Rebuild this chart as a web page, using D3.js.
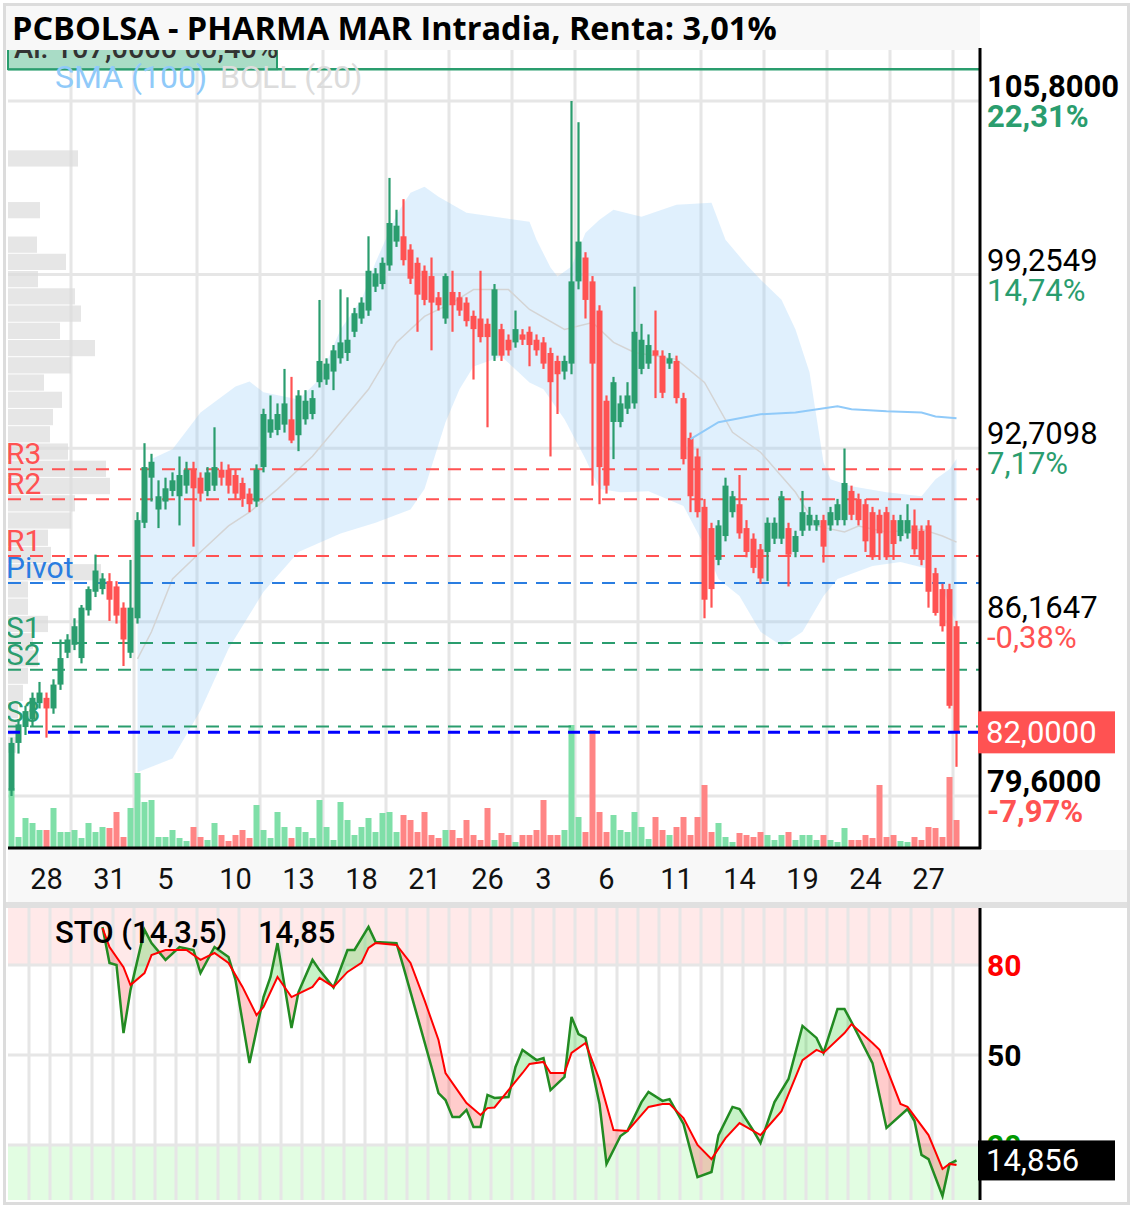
<!DOCTYPE html>
<html>
<head>
<meta charset="utf-8">
<script src="https://cdn.jsdelivr.net/npm/d3@7"></script>
<style>
    body { margin: 0; background: #fff; }
    svg { display: block; font-family: Roboto, "Noto Sans", sans-serif; }
</style>
</head>
<body>
<svg id="chart" width="1133" height="1208"></svg>
<script>
/*globals d3*/

var TITLE = "PCBOLSA - PHARMA MAR Intradia, Renta: 3,01%";

// candles, one per bar
var opens = [
    79.8, 81.6, 82.2, 82.5, 83.1, 83.3, 82.9, 83.8, 85.0, 85.3,
    84.8, 86.6, 87.3, 87.4, 87.7, 87.5, 86.7, 85.0, 86.3, 89.9,
    91.6, 90.4, 90.7, 91.1, 90.9, 91.3, 91.9, 91.6, 91.1, 91.3,
    91.9, 91.9, 91.7, 91.4, 91.0, 90.7, 92.0, 93.3, 93.4, 93.6,
    93.8, 93.2, 93.8, 94.0, 95.2, 95.3, 95.6, 96.1, 96.3, 97.1,
    97.6, 97.9, 98.8, 98.9, 99.6, 100.5, 100.7, 100.2, 99.7, 99.4,
    99.2, 98.4, 97.6, 98.6, 98.4, 98.2, 97.7, 97.6, 97.4, 96.2,
    97.2, 96.8, 96.7, 97.0, 97.1, 96.8, 96.7, 96.3, 96.0, 95.6,
    95.9, 99.0, 99.9, 99.0, 97.9, 94.5, 93.7, 93.7, 94.2, 94.4,
    95.7, 95.9, 96.4, 96.2, 95.9, 96.0, 94.6, 93.1, 92.4, 90.5,
    89.7, 88.5, 89.4, 90.3, 90.6, 89.7, 89.3, 88.9, 88.8, 89.3,
    89.3, 89.7, 88.8, 89.6, 89.8, 89.8, 90.0, 89.8, 90.0, 90.0,
    91.1, 90.8, 90.6, 90.3, 90.2, 90.3, 90.0, 89.4, 89.5, 89.8,
    89.6, 89.8, 88.0, 87.4, 87.4, 86.0
];
var highs = [
    81.8, 82.5, 83.0, 83.5, 83.9, 83.5, 84.0, 85.5, 85.7, 86.3,
    86.8, 87.5, 88.7, 88.0, 88.0, 87.7, 86.9, 88.5, 90.3, 92.9,
    92.5, 91.5, 91.6, 91.8, 92.4, 92.2, 92.2, 91.8, 92.0, 93.5,
    92.2, 92.1, 91.9, 91.6, 91.2, 92.1, 94.2, 94.7, 94.4, 95.7,
    95.4, 94.9, 94.9, 94.9, 98.3, 96.1, 96.6, 98.7, 98.4, 98.0,
    98.4, 100.7, 99.5, 99.9, 102.9, 101.7, 102.1, 100.4, 99.9, 99.6,
    99.9, 98.6, 99.3, 99.4, 98.6, 98.4, 97.9, 99.4, 97.6, 98.9,
    97.4, 97.0, 97.9, 97.2, 97.3, 97.0, 96.9, 96.5, 96.2, 96.2,
    105.8, 105.0, 100.1, 99.2, 98.1, 94.7, 95.4, 94.7, 95.2, 98.8,
    97.4, 97.0, 97.9, 96.4, 96.3, 96.2, 94.8, 93.3, 92.7, 90.8,
    89.9, 90.0, 91.6, 91.1, 91.7, 90.0, 89.5, 89.1, 90.1, 90.1,
    91.1, 89.9, 89.6, 91.1, 90.5, 90.2, 90.2, 90.5, 90.8, 92.7,
    91.3, 91.0, 90.8, 90.5, 90.4, 90.5, 90.2, 90.2, 90.6, 90.4,
    89.8, 90.0, 88.2, 87.6, 87.6, 86.2
];
var lows = [
    79.6, 81.2, 81.9, 82.2, 82.9, 81.8, 82.7, 83.6, 84.8, 85.1,
    84.6, 86.4, 87.1, 87.2, 86.2, 86.1, 84.5, 84.8, 86.1, 89.7,
    90.7, 89.7, 90.4, 90.9, 89.8, 91.0, 89.0, 90.7, 90.9, 91.1,
    91.3, 91.0, 90.8, 90.5, 90.3, 90.5, 91.8, 93.1, 93.2, 93.3,
    92.9, 92.6, 93.6, 93.8, 95.0, 95.1, 94.9, 95.9, 96.0, 96.9,
    97.4, 97.7, 98.6, 98.7, 99.4, 100.3, 99.6, 98.9, 97.1, 98.1,
    96.4, 97.9, 97.4, 97.1, 97.7, 97.3, 95.3, 96.7, 93.5, 96.0,
    96.0, 96.2, 96.5, 96.6, 95.8, 96.2, 95.7, 92.4, 94.0, 95.3,
    95.5, 98.7, 97.6, 91.3, 90.6, 91.0, 92.3, 93.5, 94.0, 94.2,
    95.5, 95.7, 94.6, 94.6, 95.7, 94.4, 92.1, 90.3, 90.1, 86.3,
    86.7, 88.3, 89.2, 90.1, 89.3, 88.6, 88.0, 87.6, 87.7, 89.1,
    89.1, 87.5, 88.6, 89.4, 89.6, 89.6, 88.4, 89.6, 89.8, 89.8,
    90.0, 89.8, 88.8, 88.5, 88.5, 88.5, 88.5, 89.2, 89.3, 88.7,
    88.3, 86.7, 86.4, 85.8, 82.9, 80.7
];
var closes = [
    81.6, 82.3, 82.8, 83.3, 83.5, 82.9, 83.8, 84.8, 85.5, 86.0,
    86.7, 87.4, 88.1, 87.8, 87.0, 86.4, 85.5, 86.7, 90.0, 92.0,
    92.2, 90.9, 91.2, 91.5, 91.7, 91.9, 91.2, 91.0, 91.8, 92.0,
    91.6, 91.3, 91.0, 90.8, 90.6, 91.9, 94.0, 93.8, 94.0, 94.4,
    93.0, 94.7, 94.5, 94.6, 96.0, 95.9, 96.4, 96.7, 96.8, 97.8,
    98.2, 99.4, 99.3, 99.7, 101.2, 101.1, 99.8, 99.1, 98.5, 98.3,
    98.2, 98.1, 99.2, 98.1, 97.9, 97.5, 97.2, 96.9, 96.9, 98.7,
    96.2, 96.4, 97.2, 96.8, 96.6, 96.4, 95.9, 95.2, 95.5, 96.0,
    99.0, 100.5, 98.3, 95.9, 92.0, 91.3, 95.2, 94.4, 94.7, 97.1,
    96.8, 96.6, 96.2, 94.8, 96.1, 94.6, 92.3, 90.9, 90.3, 87.0,
    87.4, 89.8, 91.3, 90.9, 89.5, 88.8, 88.2, 87.8, 89.9, 89.9,
    90.9, 88.7, 89.4, 90.3, 90.2, 90.0, 89.0, 90.3, 90.6, 91.4,
    90.2, 90.0, 89.2, 88.6, 89.5, 88.6, 89.1, 90.0, 90.0, 88.9,
    88.5, 87.3, 86.5, 86.0, 83.0, 82.0
];
// volume per bar, thousands
var volumes = [
    59, 10, 29, 24, 17, 17, 39, 15, 15, 17,
    9, 24, 15, 20, 19, 35, 10, 39, 74, 45,
    47, 10, 10, 17, 9, 6, 20, 10, 7, 24,
    12, 6, 12, 17, 9, 42, 17, 9, 35, 20,
    9, 20, 15, 9, 47, 20, 7, 45, 27, 12,
    20, 29, 15, 34, 35, 15, 32, 27, 15, 35,
    12, 9, 17, 17, 9, 27, 12, 7, 39, 7,
    14, 12, 5, 12, 12, 17, 47, 12, 12, 17,
    122, 30, 15, 117, 35, 15, 32, 17, 15, 35,
    20, 8, 30, 17, 12, 20, 30, 12, 30, 62,
    15, 24, 10, 5, 14, 12, 10, 15, 12, 7,
    12, 15, 7, 12, 12, 7, 12, 7, 5, 19,
    7, 7, 12, 9, 62, 10, 12, 6, 5, 10,
    7, 20, 19, 10, 70, 27
];

// indicators as [bar, value]
var bollUpper = [[18, 89.66], [20, 92.30], [23, 92.67], [27, 94.06], [32, 95.04], [34, 95.23],
    [36, 94.82], [41, 94.55], [44, 95.31], [47, 97.19], [50, 98.31], [52, 99.71], [55, 101.51],
    [57, 102.34], [59, 102.57], [61, 102.19], [65, 101.59], [70, 101.40], [74, 101.25],
    [75, 100.57], [77, 99.52], [78, 99.18], [80, 99.56], [82, 100.83], [84, 101.32],
    [86, 101.70], [90, 101.44], [95, 101.89], [100, 101.96], [102, 100.57], [105, 99.63],
    [107, 99.07], [110, 98.31], [112, 97.19], [114, 95.57], [116, 92.18], [117, 91.54],
    [120, 91.28], [125, 91.05], [130, 90.90], [132, 91.54], [134, 91.92], [135, 92.30]];
var bollLower = [[18, 80.50], [23, 81.01], [27, 82.82], [31, 85.15], [36, 87.30], [41, 88.80],
    [47, 89.50], [52, 89.90], [57, 90.40], [59, 91.17], [62, 93.69], [64, 94.93], [66, 95.79],
    [70, 96.17], [74, 95.19], [76, 94.93], [79, 93.80], [82, 92.30], [84, 91.17], [87, 91.05],
    [91, 91.09], [96, 90.53], [99, 89.02], [101, 87.78], [104, 87.14], [107, 85.79],
    [110, 85.26], [113, 85.79], [116, 87.14], [118, 87.78], [123, 88.27], [127, 88.42],
    [131, 88.16], [133, 87.41], [135, 86.09]];
var bollMid = [[18, 84.77], [20, 85.79], [23, 87.78], [27, 88.80], [31, 89.78], [34, 90.30],
    [38, 91.17], [43, 92.41], [51, 94.93], [55, 96.70], [59, 97.68], [63, 98.20], [66, 98.69],
    [71, 98.69], [74, 97.94], [79, 97.19], [83, 97.45], [86, 96.70], [89, 96.32], [95, 96.06],
    [99, 95.19], [103, 93.31], [107, 92.56], [112, 91.05], [115, 89.78], [119, 89.55],
    [121, 89.78], [125, 89.55], [130, 89.66], [133, 89.40], [135, 89.17]];
var sma100 = [[97, 93.05], [101, 93.69], [107, 93.99], [112, 94.06], [118, 94.29], [120, 94.18],
    [125, 94.10], [130, 94.06], [132, 93.91], [135, 93.84]];

var stoK = [[13, 92.7], [14, 80.7], [15, 80.0], [16, 57.3], [17, 71.7], [19, 91.7], [20, 87.3],
    [22, 81.7], [24, 86.0], [26, 85.0], [27, 77.3], [29, 86.0], [31, 82.7], [32, 75.0], [34, 47.3],
    [36, 69.3], [37, 76.0], [38, 87.3], [40, 59.0], [41, 71.0], [43, 81.7], [44, 78.3], [46, 72.5],
    [48, 85.0], [49, 85.0], [51, 92.7], [52, 87.7], [55, 87.3], [56, 79.3], [58, 62.7], [60, 46.0],
    [61, 37.3], [62, 35.0], [63, 29.3], [64, 29.3], [65, 31.7], [66, 26.0], [67, 26.0], [68, 36.7],
    [69, 35.7], [71, 36.0], [72, 46.0], [73, 51.7], [75, 48.3], [76, 49.0], [77, 38.3], [79, 42.7],
    [80, 62.7], [81, 57.0], [82, 55.7], [84, 33.7], [85, 13.7], [87, 23.0], [88, 24.7], [90, 34.3],
    [91, 37.7], [93, 34.7], [94, 35.3], [96, 27.0], [98, 9.3], [100, 11.0], [101, 23.3], [103, 32.7],
    [104, 32.0], [106, 24.7], [107, 20.7], [109, 34.3], [111, 42.0], [113, 59.7], [115, 55.7],
    [116, 50.7], [118, 65.3], [119, 65.3], [120, 61.0], [123, 47.3], [125, 25.7], [128, 32.0],
    [129, 28.0], [130, 16.7], [131, 15.3], [133, 3.0], [134, 13.7], [135, 14.856]];
var stoD = [[13, 92.3], [14, 86.0], [16, 79.3], [17, 73.3], [19, 77.3], [20, 83.3], [22, 85.0],
    [24, 85.0], [25, 85.0], [27, 81.7], [29, 84.0], [31, 80.7], [33, 72.7], [35, 63.3], [36, 66.0],
    [38, 76.0], [40, 69.3], [43, 72.7], [44, 75.7], [46, 72.7], [48, 77.7], [50, 80.7], [51, 85.7],
    [52, 87.3], [55, 86.7], [57, 80.7], [59, 68.3], [61, 55.0], [62, 44.0], [64, 37.3], [65, 34.0],
    [67, 30.0], [68, 32.3], [69, 32.5], [71, 38.3], [73, 44.0], [74, 47.0], [76, 47.7], [77, 44.0],
    [79, 44.0], [80, 50.7], [82, 54.0], [84, 41.7], [86, 25.0], [88, 24.7], [91, 32.7], [93, 33.7],
    [94, 33.7], [96, 29.0], [98, 20.0], [100, 15.3], [102, 22.3], [104, 27.3], [107, 23.3],
    [110, 31.3], [113, 48.3], [115, 51.7], [116, 50.7], [119, 57.3], [120, 60.3], [123, 54.0],
    [124, 51.7], [127, 33.7], [128, 32.7], [131, 23.3], [132, 17.7], [133, 12.0], [134, 13.7],
    [135, 13.3]];

var pivotNames = ['R3', 'R2', 'R1', 'Pivot', 'S1', 'S2', 'S3'];
var pivotValues = [91.92, 90.79, 88.65, 87.63, 85.37, 84.36, 82.22];

// volume profile, bins of 0.65 from the top price down
var profileTop = 103.96, profileStep = 0.65;
var profileVolumes = [70, 0, 0, 32, 0, 29, 58, 30, 67, 73, 52, 87, 63, 36, 54, 45, 42, 60, 98, 102,
    67, 63, 40, 43, 93, 20, 20, 40, 25, 30, 20, 15, 10, 10, 8];

var priceTicks = [105.8, 99.2549, 92.7098, 86.1647, 79.6];
var pctLabels = ['22,31%', '14,74%', '7,17%', '-0,38%', '-7,97%'];
var dayTicks = [5, 14, 22, 32, 41, 50, 59, 68, 76, 85, 95, 104, 113, 122, 131];
var dayLabels = ['28', '31', '5', '10', '13', '18', '21', '26', '3', '6', '11', '14', '19', '24', '27'];
var stoLevels = [80, 50, 20];
var lastPrice = 82.0, alertPrice = 107.0, lastSto = 14.856;

(function () {
    "use strict";
    var LEFT = 8, RIGHT = 980,
        MAIN_TOP = 50, MAIN_BOTTOM = 848,
        STO_TOP = 908, STO_BOTTOM = 1200,
        UP = '#2a9d6e', DOWN = '#ff5252', PIVOT = '#2a7de1', GRID = '#e6e6e6',
        svg = d3.select('#chart'),
        locale = d3.formatLocale({decimal: ',', thousands: '.', grouping: [3], currency: ['', '€']}),
        fmt4 = locale.format('.4f'),
        fmt3 = locale.format('.3f'),
        fmt2 = locale.format('.2f'),
        n = closes.length,
        x = d3.scaleLinear().domain([-0.5, n - 0.5]).range([LEFT, 960]),
        y = d3.scaleLinear().domain([79.6, 105.8]).range([796, 101]),
        yVol = d3.scaleLinear().domain([0, d3.max(volumes)]).range([MAIN_BOTTOM - 1, 725]),
        yS = d3.scaleLinear().domain([0, 100]).range([1205, 905]),
        bars = closes.map(function (c, i) {
            return {i: i, o: opens[i], h: highs[i], l: lows[i], c: c, v: volumes[i]};
        }),
        pLine = d3.line().x(function (d) { return x(d[0]); }).y(function (d) { return y(d[1]); }),
        sLine = d3.line().x(function (d) { return x(d[0]); }).y(function (d) { return yS(d[1]); }),
        pivotColor = function (d, i) { return i < 3 ? DOWN : (i === 3 ? PIVOT : UP); },
        defs = svg.append('defs'),
        main, sto;

    defs.append('clipPath').attr('id', 'clipMain').append('rect')
        .attr('x', LEFT).attr('y', MAIN_TOP).attr('width', RIGHT - LEFT).attr('height', MAIN_BOTTOM - MAIN_TOP);
    defs.append('clipPath').attr('id', 'clipSto').append('rect')
        .attr('x', LEFT).attr('y', STO_TOP).attr('width', RIGHT - LEFT).attr('height', STO_BOTTOM - STO_TOP);

    /**
     * Main price panel
     */
    main = svg.append('g').attr('clip-path', 'url(#clipMain)');

    main.selectAll('.vgrid').data(d3.range(1, 16)).enter().append('line')
        .attr('x1', function (k) { return x(-0.5 + 9 * k); })
        .attr('x2', function (k) { return x(-0.5 + 9 * k); })
        .attr('y1', MAIN_TOP).attr('y2', MAIN_BOTTOM)
        .attr('stroke', GRID).attr('stroke-width', 3);
    main.selectAll('.hgrid').data(priceTicks).enter().append('line')
        .attr('x1', LEFT).attr('x2', RIGHT)
        .attr('y1', function (d) { return y(d); }).attr('y2', function (d) { return y(d); })
        .attr('stroke', GRID).attr('stroke-width', 3);

    // volume profile on the left
    main.selectAll('.profile').data(profileVolumes).enter().append('rect')
        .attr('x', LEFT)
        .attr('y', function (d, k) { return y(profileTop - k * profileStep) + 0.5; })
        .attr('width', function (d) { return d; })
        .attr('height', function (d, k) {
            return y(profileTop - (k + 1) * profileStep) - y(profileTop - k * profileStep) - 1;
        })
        .attr('fill', '#dcdcdc').attr('opacity', 0.7);

    // bollinger band
    main.append('path')
        .attr('d', pLine(bollUpper.concat(bollLower.slice().reverse())) + 'Z')
        .attr('fill', 'rgba(144,202,249,0.28)');
    main.append('path').attr('d', pLine(bollMid))
        .attr('fill', 'none').attr('stroke', '#d4d4d4').attr('stroke-width', 1.5);

    // volume
    main.selectAll('.vol').data(bars).enter().append('rect')
        .attr('x', function (d) { return x(d.i) - 3; })
        .attr('width', 6)
        .attr('y', function (d) { return yVol(d.v); })
        .attr('height', function (d) { return yVol(0) - yVol(d.v); })
        .attr('fill', function (d) { return d.c >= d.o ? '#7fdfa8' : '#ff8585'; });

    // pivot levels
    main.selectAll('.pivot').data(pivotValues).enter().append('line')
        .attr('x1', LEFT).attr('x2', RIGHT)
        .attr('y1', function (d) { return y(d); }).attr('y2', function (d) { return y(d); })
        .attr('stroke', pivotColor)
        .attr('stroke-width', 2).attr('stroke-dasharray', '13,9');

    // candles
    main.selectAll('.wick').data(bars).enter().append('line')
        .attr('x1', function (d) { return x(d.i); }).attr('x2', function (d) { return x(d.i); })
        .attr('y1', function (d) { return y(d.h); }).attr('y2', function (d) { return y(d.l); })
        .attr('stroke', function (d) { return d.c >= d.o ? UP : DOWN; })
        .attr('stroke-width', 2.2);
    main.selectAll('.body').data(bars).enter().append('rect')
        .attr('x', function (d) { return x(d.i) - 3; })
        .attr('width', 6)
        .attr('y', function (d) { return y(Math.max(d.o, d.c)); })
        .attr('height', function (d) { return Math.max(2, Math.abs(y(d.o) - y(d.c))); })
        .attr('fill', function (d) { return d.c >= d.o ? UP : DOWN; });

    main.append('path').attr('d', pLine(sma100))
        .attr('fill', 'none').attr('stroke', '#90caf9').attr('stroke-width', 2);

    // last price
    main.append('line')
        .attr('x1', LEFT).attr('x2', RIGHT).attr('y1', y(lastPrice)).attr('y2', y(lastPrice))
        .attr('stroke', '#0000ff').attr('stroke-width', 3).attr('stroke-dasharray', '12,8');

    // pivot names
    main.selectAll('.pname').data(pivotNames).enter().append('text')
        .attr('x', 6)
        .attr('y', function (d, i) { return y(pivotValues[i]) - 5; })
        .attr('font-size', 30)
        .attr('fill', pivotColor)
        .text(function (d) { return d; });

    // alert line and its label, half hidden under the title
    svg.append('line')
        .attr('x1', LEFT).attr('x2', RIGHT).attr('y1', y(alertPrice)).attr('y2', y(alertPrice))
        .attr('stroke', UP).attr('stroke-width', 2.5);
    svg.append('rect')
        .attr('x', LEFT).attr('y', 30).attr('width', 269).attr('height', y(alertPrice) - 30)
        .attr('fill', '#a9dcc6').attr('stroke', UP).attr('stroke-width', 2);
    svg.append('text')
        .attr('x', 14).attr('y', 58).attr('font-size', 29).attr('font-weight', 500).attr('fill', '#333')
        .text('Al: ' + fmt4(alertPrice) + '  00,40%');

    svg.append('text').attr('x', 55).attr('y', 88).attr('font-size', 32).attr('fill', '#90caf9')
        .text('SMA (100)');
    svg.append('text').attr('x', 220).attr('y', 88).attr('font-size', 32).attr('fill', '#dcdcdc')
        .text('BOLL (20)');

    // title bar
    svg.append('rect').attr('x', 5).attr('y', 5).attr('width', RIGHT - 5).attr('height', 45)
        .attr('fill', '#f8f8f8');
    svg.append('text')
        .attr('x', 12).attr('y', 40)
        .attr('font-family', '"Open Sans", "Noto Sans", sans-serif')
        .attr('font-weight', 700).attr('font-size', 32.5).attr('fill', '#000')
        .text(TITLE);

    // axes of the main panel
    svg.append('line').attr('x1', RIGHT).attr('x2', RIGHT).attr('y1', 48).attr('y2', MAIN_BOTTOM + 1)
        .attr('stroke', '#000').attr('stroke-width', 3);
    svg.append('line').attr('x1', LEFT).attr('x2', RIGHT + 1).attr('y1', MAIN_BOTTOM).attr('y2', MAIN_BOTTOM)
        .attr('stroke', '#000').attr('stroke-width', 3);

    svg.selectAll('.ptick').data(priceTicks).enter().append('text')
        .attr('x', 987).attr('y', function (d) { return y(d) - 4; })
        .attr('font-size', 31)
        .attr('font-weight', function (d, i) { return (i === 0 || i === priceTicks.length - 1) ? 700 : 400; })
        .attr('fill', '#000')
        .text(function (d) { return fmt4(d); });
    svg.selectAll('.pct').data(pctLabels).enter().append('text')
        .attr('x', 987).attr('y', function (d, i) { return y(priceTicks[i]) + 26; })
        .attr('font-size', 31)
        .attr('font-weight', function (d, i) { return (i === 0 || i === pctLabels.length - 1) ? 700 : 400; })
        .attr('fill', function (d) { return d.charAt(0) === '-' ? DOWN : UP; })
        .text(function (d) { return d; });

    svg.append('rect').attr('x', 978).attr('y', y(lastPrice) - 21).attr('width', 137).attr('height', 42)
        .attr('fill', DOWN);
    svg.append('text').attr('x', 986).attr('y', y(lastPrice) + 11).attr('font-size', 31).attr('fill', '#fff')
        .text(fmt4(lastPrice));

    // date band
    svg.append('rect').attr('x', LEFT).attr('y', MAIN_BOTTOM + 2).attr('width', 1128 - LEFT).attr('height', 52)
        .attr('fill', '#f8f8f8');
    svg.append('rect').attr('x', 4).attr('y', 902).attr('width', 1126).attr('height', 6)
        .attr('fill', '#e0e0e0');
    svg.selectAll('.day').data(dayTicks).enter().append('text')
        .attr('x', function (d) { return x(d); }).attr('y', 889)
        .attr('text-anchor', 'middle').attr('font-size', 29).attr('fill', '#111')
        .text(function (d, i) { return dayLabels[i]; });

    /**
     * Stochastic panel
     */
    sto = svg.append('g').attr('clip-path', 'url(#clipSto)');
    sto.append('rect').attr('x', LEFT).attr('y', yS(100)).attr('width', RIGHT - LEFT)
        .attr('height', yS(80) - yS(100)).attr('fill', '#ffe9e9');
    sto.append('rect').attr('x', LEFT).attr('y', yS(20)).attr('width', RIGHT - LEFT)
        .attr('height', yS(0) - yS(20)).attr('fill', '#e2fde2');
    sto.selectAll('.svgrid').data(d3.range(1, 46)).enter().append('line')
        .attr('x1', function (k) { return x(-0.5 + 3 * k); })
        .attr('x2', function (k) { return x(-0.5 + 3 * k); })
        .attr('y1', STO_TOP).attr('y2', STO_BOTTOM)
        .attr('stroke', GRID).attr('stroke-width', 3);
    sto.selectAll('.shgrid').data(stoLevels).enter().append('line')
        .attr('x1', LEFT).attr('x2', RIGHT)
        .attr('y1', function (d) { return yS(d); }).attr('y2', function (d) { return yS(d); })
        .attr('stroke', GRID).attr('stroke-width', 3);

    defs.append('clipPath').attr('id', 'aboveD').append('path')
        .attr('d', sLine([[stoD[0][0], 200]].concat(stoD, [[stoD[stoD.length - 1][0], 200]])) + 'Z');
    defs.append('clipPath').attr('id', 'belowD').append('path')
        .attr('d', sLine([[stoD[0][0], -100]].concat(stoD, [[stoD[stoD.length - 1][0], -100]])) + 'Z');

    sto.append('path').attr('clip-path', 'url(#aboveD)')
        .attr('d', sLine(stoK.concat(stoD.slice().reverse())) + 'Z')
        .attr('fill', 'rgba(0,200,0,0.22)');
    sto.append('path').attr('clip-path', 'url(#belowD)')
        .attr('d', sLine(stoK.concat(stoD.slice().reverse())) + 'Z')
        .attr('fill', 'rgba(255,0,0,0.2)');
    sto.append('path').attr('d', sLine(stoK))
        .attr('fill', 'none').attr('stroke', '#228b22').attr('stroke-width', 2.5);
    sto.append('path').attr('d', sLine(stoD))
        .attr('fill', 'none').attr('stroke', '#ff0000').attr('stroke-width', 2);

    svg.append('text').attr('x', 55).attr('y', 943).attr('font-size', 31).attr('font-weight', 500)
        .text('STO (14,3,5)');
    svg.append('text').attr('x', 258).attr('y', 943).attr('font-size', 31).attr('font-weight', 500)
        .text(fmt2(Math.floor(lastSto * 100) / 100));

    svg.append('line').attr('x1', RIGHT).attr('x2', RIGHT).attr('y1', STO_TOP).attr('y2', STO_BOTTOM)
        .attr('stroke', '#000').attr('stroke-width', 3);
    svg.selectAll('.slabel').data(stoLevels).enter().append('text')
        .attr('x', 987).attr('y', function (d) { return yS(d) + 11; })
        .attr('font-size', 30).attr('font-weight', 700)
        .attr('fill', function (d) { return d === 80 ? '#ff0000' : (d === 20 ? '#009900' : '#000'); })
        .text(function (d) { return d; });
    svg.append('rect').attr('x', 978).attr('y', yS(lastSto) - 20).attr('width', 137).attr('height', 40)
        .attr('fill', '#000');
    svg.append('text').attr('x', 986).attr('y', yS(lastSto) + 11).attr('font-size', 31).attr('fill', '#fff')
        .text(fmt3(lastSto));

    // outer frame
    svg.append('rect').attr('x', 4.5).attr('y', 4.5).attr('width', 1124).attr('height', 1199)
        .attr('fill', 'none').attr('stroke', '#dcdcdc').attr('stroke-width', 3);
}());
</script>
</body>
</html>
